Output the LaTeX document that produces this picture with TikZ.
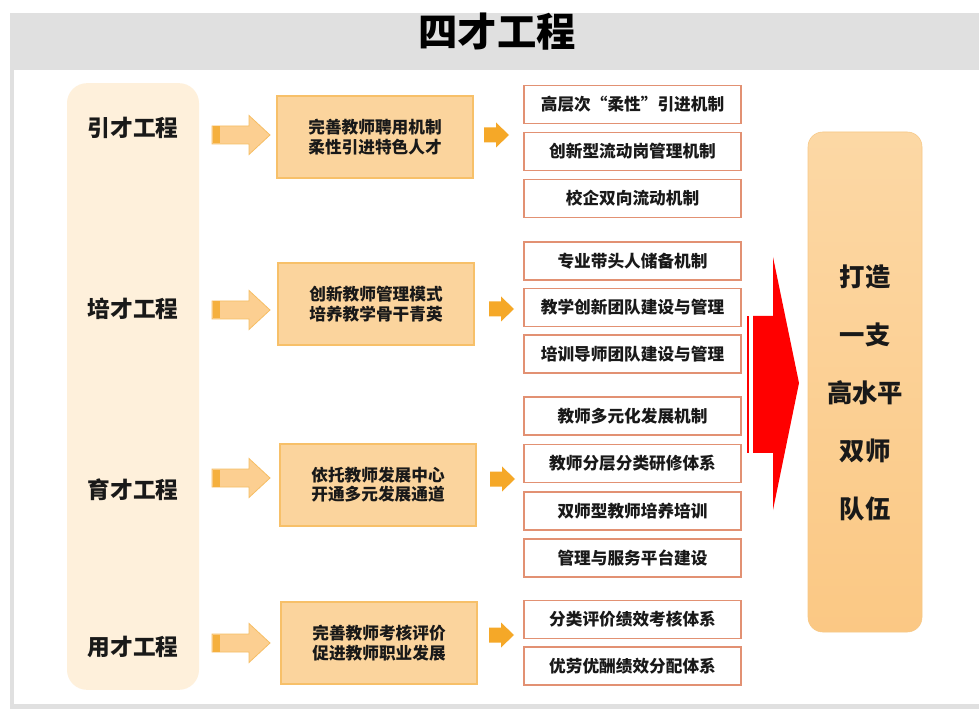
\documentclass[tikz,border=0pt]{standalone}
\usepackage{fontspec}
\setmainfont{Noto Sans CJK SC}
\usetikzlibrary{backgrounds}
\definecolor{titlegray}{RGB}{224, 224, 224}
\definecolor{cream}{RGB}{254, 240, 219}
\definecolor{boxfill}{RGB}{251, 212, 157}
\definecolor{boxline}{RGB}{247, 192, 105}
\definecolor{arrowfill}{RGB}{252, 207, 145}
\definecolor{arrowline}{RGB}{246, 190, 100}
\definecolor{arrowstripe}{RGB}{245, 176, 62}
\definecolor{smallarrow}{RGB}{245, 168, 40}
\definecolor{itemline}{RGB}{226, 145, 115}
\definecolor{goaltop}{RGB}{252, 216, 165}
\definecolor{goalbottom}{RGB}{251, 200, 132}
\definecolor{goalline}{RGB}{247, 200, 135}
\definecolor{inkblack}{RGB}{25, 25, 25}
\definecolor{pure red}{RGB}{255, 0, 0}

\begin{document}
\begin{tikzpicture}[
        x=0.75pt, y=-0.75pt,
        text=inkblack,
        stage/.style={font=\fontsize{17}{20}\selectfont\bfseries},
        column/.style={fill=cream, rounded corners=15pt,
            minimum width=99pt, minimum height=455pt},
        measure/.style={draw=boxline, fill=boxfill, line width=0.8pt,
            minimum width=147pt, minimum height=61.5pt, align=center,
            font=\fontsize{12.5}{14.5}\selectfont\bfseries},
        item/.style={draw=itemline, fill=white, line width=0.8pt,
            minimum width=162.75pt, minimum height=28.5pt,
            font=\fontsize{12.5}{15}\selectfont\bfseries},
        goalbox/.style={draw=goalline, top color=goaltop, bottom color=goalbottom,
            rounded corners=11pt, minimum width=85.5pt, minimum height=375pt},
        bigarrow/.style={draw=arrowline, fill=arrowfill, line width=0.6pt},
        smallarrow/.style={fill=smallarrow}
    ]
    \useasboundingbox (0,0) rectangle (979,709);

    % frame and title bar
    \fill[titlegray] (10,13) rectangle (979,709);
    \fill[white] (14,70) rectangle (979,704);
    \node[font=\fontsize{29.5}{33}\selectfont\bfseries, text=black] (title) at (497,32) {四才工程};

    % left column
    \node[column] (col) at (133,386.5) {};
    \node[stage] (yin) at (133,128) {引才工程};
    \node[stage] (pei) at (133,309) {培才工程};
    \node[stage] (yu) at (133,490) {育才工程};
    \node[stage] (yong) at (133,647) {用才工程};

    % measures
    \node[measure] (m1) at (375,137) {完善教师聘用机制\\柔性引进特色人才};
    \node[measure] (m2) at (376,304) {创新教师管理模式\\培养教学骨干青英};
    \node[measure] (m3) at (378,485) {依托教师发展中心\\开通多元发展通道};
    \node[measure] (m4) at (379,643) {完善教师考核评价\\促进教师职业发展};

    % block arrows
    \foreach \ya in {135,310,478,643}{
        \filldraw[bigarrow] (212,\ya) ++(0,-9) -- ++(37,0) -- ++(0,-10.5)
            -- ++(21,19.5) -- ++(-21,19.5) -- ++(0,-10.5) -- ++(-37,0) -- cycle;
        \fill[arrowstripe] (212,\ya) ++(0.5,-8.5) rectangle ++(7.5,17);
    }
    \foreach \xa/\ya in {484/135,489/309,490/479,489/635}{
        \fill[smallarrow] (\xa,\ya) ++(0,-7.5) -- ++(12,0) -- ++(0,-5)
            -- ++(13,12.5) -- ++(-13,12.5) -- ++(0,-5) -- ++(-12,0) -- cycle;
    }

    % items
    \foreach \yi/\txt [count=\n] in {
        104.5/{高层次“柔性”引进机制},
        151.5/创新型流动岗管理机制,
        198.5/校企双向流动机制,
        261/专业带头人储备机制,
        307.5/教学创新团队建设与管理,
        354/培训导师团队建设与管理,
        416/教师多元化发展机制,
        463.5/教师分层分类研修体系,
        511/双师型教师培养培训,
        558/管理与服务平台建设,
        619.5/分类评价绩效考核体系,
        666/优劳优酬绩效分配体系}{
        \node[item] (i\n) at (632.5,\yi) {\txt};
    }

    % red arrow
    \fill[pure red] (753,316) -- (773,316) -- (773,257) -- (799,383)
        -- (773,510) -- (773,453) -- (753,453) -- cycle;
    \fill[pure red] (747,316) rectangle (749,453);

    % goal
    \node[goalbox] (goal) at (865,382) {};
    \node[align=center, font=\fontsize{19}{43.5}\selectfont\bfseries] (goaltxt) at (865,393)
        {打造\\一支\\高水平\\双师\\队伍};
\end{tikzpicture}
\end{document}
